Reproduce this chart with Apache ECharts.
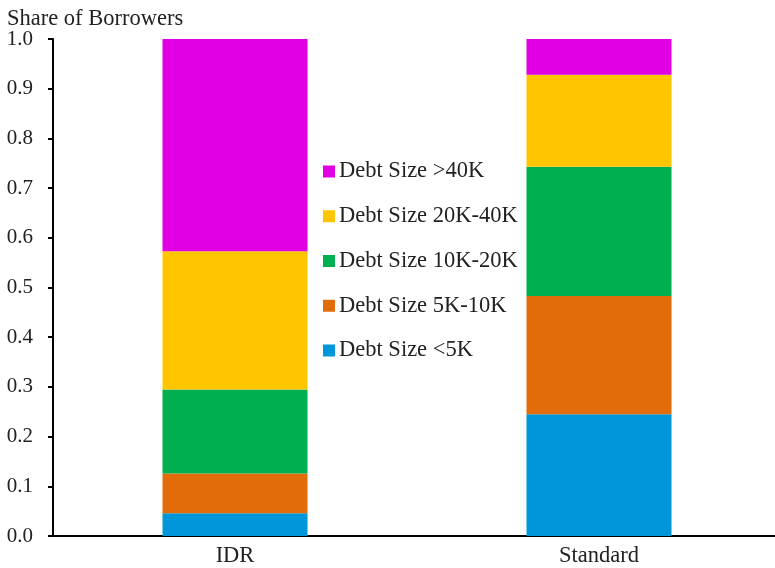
<!DOCTYPE html>
<html><head><meta charset="utf-8">
<script src="https://cdn.jsdelivr.net/npm/echarts@6/dist/echarts.min.js"></script>
<style>html,body{margin:0;padding:0;background:#fff;overflow:hidden}#c{width:781px;height:568px}</style>
</head><body><div id="c"></div>
<script>
const categories = ['IDR', 'Standard'];
const seriesNames = ['Debt Size <5K', 'Debt Size 5K-10K', 'Debt Size 10K-20K', 'Debt Size 20K-40K', 'Debt Size >40K'];
const under5K = [0.046, 0.245];
const k5to10 = [0.080, 0.238];
const k10to20 = [0.169, 0.260];
const k20to40 = [0.278, 0.185];
const over40K = [0.427, 0.072];
const yTicks = [0, 0.1, 0.2, 0.3, 0.4, 0.5, 0.6, 0.7, 0.8, 0.9, 1.0];
const colors = ['#0096D9', '#E36C0A', '#00B050', '#FFC600', '#E000E3'];
const values = [under5K, k5to10, k10to20, k20to40, over40K];

const font = 'Liberation Serif, Times New Roman, serif';
const chart = echarts.init(document.getElementById('c'), null, {renderer: 'canvas'});
chart.setOption({
  animation: false,
  textStyle: {fontFamily: font},
  title: {text: 'Share of Borrowers', left: 2, top: 3, textStyle: {fontFamily: font, fontSize: 22.5, fontWeight: 'normal', color: '#222'}},
  grid: {left: 53, right: 0, top: 39, bottom: 31},
  legend: {
    orient: 'vertical', left: 318, top: 155, itemWidth: 12, itemHeight: 12, itemGap: 21.75,
    icon: 'rect',
    data: seriesNames.slice().reverse(),
    textStyle: {fontFamily: font, fontSize: 22.5, color: '#222', padding: [0, 0, 0, -1]}
  },
  xAxis: {
    type: 'category', data: categories,
    axisLine: {lineStyle: {color: '#000', width: 2}},
    axisTick: {show: false},
    axisLabel: {fontFamily: font, fontSize: 22.5, color: '#222', margin: 9}
  },
  yAxis: {
    type: 'value', min: 0, max: 1, interval: 0.1,
    splitLine: {show: false},
    axisLine: {show: true, lineStyle: {color: '#000', width: 2}},
    axisTick: {show: true, length: 5, lineStyle: {color: '#000', width: 2}},
    axisLabel: {fontFamily: font, fontSize: 21, color: '#222', margin: 20,
      formatter: v => yTicks.includes(Math.round(v*10)/10) ? v.toFixed(1) : ''}
  },
  series: seriesNames.map((n, i) => ({
    name: n, type: 'bar', stack: 'total', barWidth: 145,
    itemStyle: {color: colors[i]},
    data: values[i]
  }))
});
</script></body></html>
